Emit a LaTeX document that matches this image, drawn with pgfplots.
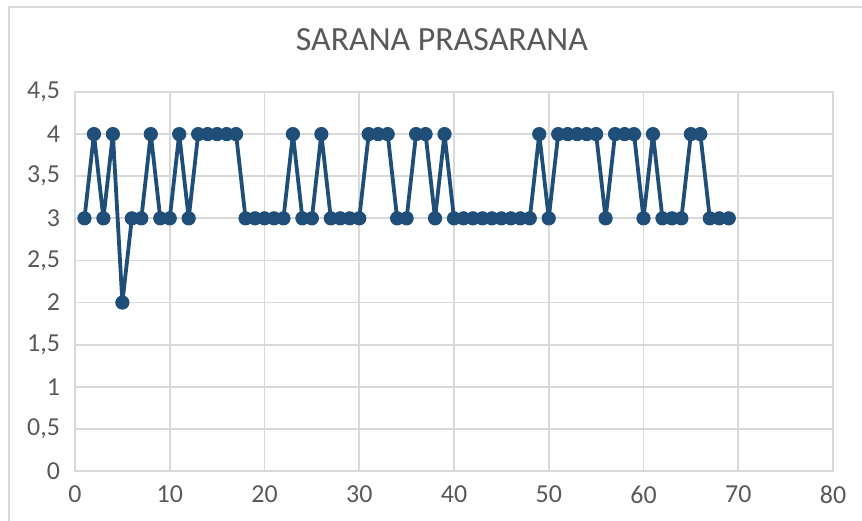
\documentclass[border=0pt]{standalone}
\usepackage{pgfplots}
\pgfplotsset{compat=1.18}
\usepackage{fontspec}
\setmainfont{Carlito}
\definecolor{ser}{HTML}{1F4E79}
\definecolor{grid}{HTML}{D9D9D9}
\definecolor{txt}{HTML}{595959}
\begin{document}
\begin{tikzpicture}
\path[use as bounding box] (-37.5bp,-25bp) rectangle (393.5bp,235.5bp);
\draw[grid, line width=0.8bp] (-33bp,-25bp) -- (-33bp,232bp) -- (393.5bp,232bp);
\begin{axis}[
  at={(0,0)}, anchor=south west,
  scale only axis, width=379bp, height=189.5bp,
  xmin=0, xmax=80, ymin=0, ymax=4.5,
  xtick={0,10,20,30,40,50,60,70,80}, ytick={0,0.5,1,1.5,2,2.5,3,3.5,4,4.5},
  grid=major, major grid style={draw=grid, line width=0.9bp},
  axis line style={draw=grid, line width=0.9bp},
  tick style={draw=none},
  ticklabel style={font=\fontsize{13}{15}\selectfont, text=txt},
  /pgf/number format/assume math mode=true,
  /pgf/number format/use comma,
  y tick label style={xshift=-4bp},
  x tick label style={yshift=-4bp},
  title={\textcolor{txt}{SARANA PRASARANA}},
  title style={font=\fontsize{17}{20}\selectfont, at={(rel axis cs:0.484,1)}, anchor=south, yshift=11bp},
  clip=false,
]
\addplot[ser, line width=1.9bp, line join=round, mark=*, mark size=3.3bp, mark options={fill=ser, draw=ser, line width=0.5bp}] coordinates {
(1,3)(2,4)(3,3)(4,4)(5,2)(6,3)(7,3)(8,4)(9,3)(10,3)
(11,4)(12,3)(13,4)(14,4)(15,4)(16,4)(17,4)(18,3)(19,3)(20,3)
(21,3)(22,3)(23,4)(24,3)(25,3)(26,4)(27,3)(28,3)(29,3)(30,3)
(31,4)(32,4)(33,4)(34,3)(35,3)(36,4)(37,4)(38,3)(39,4)(40,3)
(41,3)(42,3)(43,3)(44,3)(45,3)(46,3)(47,3)(48,3)(49,4)(50,3)
(51,4)(52,4)(53,4)(54,4)(55,4)(56,3)(57,4)(58,4)(59,4)(60,3)
(61,4)(62,3)(63,3)(64,3)(65,4)(66,4)(67,3)(68,3)(69,3)
};
\end{axis}
\end{tikzpicture}
\end{document}
